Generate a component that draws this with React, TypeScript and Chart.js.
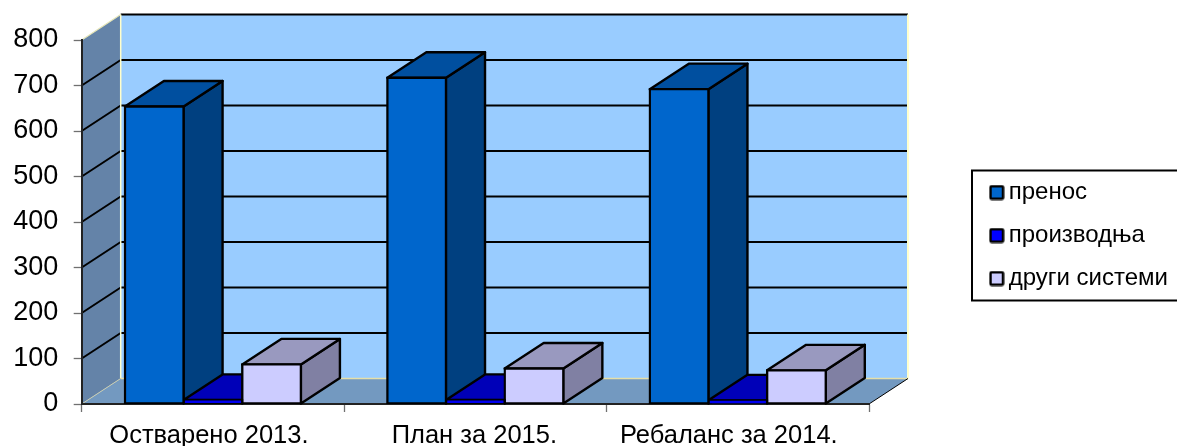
import React, { useEffect, useRef } from "react";
import { Chart, registerables } from "chart.js";

Chart.register(...registerables);

const categories = ["Остварено 2013.", "План за 2015.", "Ребаланс за 2014."];
const seriesNames = ["пренос", "производња", "други системи"];
const prenos = [654, 717, 692];
const proizvodnja = [9, 9, 8];
const drugiSistemi = [87, 78, 74];
const yTicks = [0, 100, 200, 300, 400, 500, 600, 700, 800];

const FRONT = ["#0066cc", "#0000ee", "#ccccff"];
const TOP = ["#004f9f", "#0000b8", "#9999bf"];
const SIDE = ["#004080", "#000099", "#8080a3"];
const SWATCH = ["#0066cc", "#0000ff", "#ccccff"];
const LABEL_SHIFT = [-4, -1, -9];
const DX = 39;
const DY = -25.5;
const FONT = "'Liberation Sans', Arial, sans-serif";
const LEGEND_FONT = 24;

function swatch(color: string) {
  const c = document.createElement("canvas");
  c.width = 16;
  c.height = 16;
  const g = c.getContext("2d")!;
  g.fillStyle = "#000";
  g.beginPath();
  g.roundRect(0.5, 0.5, 15, 15, 2.5);
  g.fill();
  g.fillStyle = color;
  g.fillRect(3, 3, 10, 10);
  return c;
}

function poly(g: CanvasRenderingContext2D, pts: number[][], fill: string | null, stroke?: string, lw = 2.4) {
  g.beginPath();
  pts.forEach((p, i) => (i ? g.lineTo(p[0], p[1]) : g.moveTo(p[0], p[1])));
  g.closePath();
  if (fill) {
    g.fillStyle = fill;
    g.fill();
  }
  if (stroke) {
    g.strokeStyle = stroke;
    g.lineWidth = lw;
    g.lineJoin = "round";
    g.stroke();
  }
}

function line(g: CanvasRenderingContext2D, x1: number, y1: number, x2: number, y2: number, color: string, lw: number) {
  g.beginPath();
  g.moveTo(x1, y1);
  g.lineTo(x2, y2);
  g.strokeStyle = color;
  g.lineWidth = lw;
  g.stroke();
}

const depthPlugin = {
  id: "depth3d",
  afterLayout(chart: any) {
    const lg = chart.legend;
    const padding = 43 - LEGEND_FONT;
    lg.left = 996.7 - padding;
    lg.right = 1177;
    lg.width = lg.right - lg.left;
    lg.top = 192.5 - LEGEND_FONT / 2 - padding;
    lg.bottom = 330;
    lg.height = lg.bottom - lg.top;
    const xs = chart.scales.x;
    xs.getLabelItems(chart.chartArea).forEach((it: any, i: number) => {
      it.options.translation[0] += LABEL_SHIFT[i];
    });
  },
  beforeDraw(chart: any) {
    const g: CanvasRenderingContext2D = chart.ctx;
    const { left, right } = chart.chartArea;
    const y = chart.scales.y;
    const top = y.getPixelForValue(800);
    const base = y.getPixelForValue(0);
    g.save();
    poly(g, [[left + DX, top + DY], [right + DX, top + DY], [right + DX, base + DY], [left + DX, base + DY]], "#99ccff");
    poly(g, [[left, top], [left + DX, top + DY], [left + DX, base + DY], [left, base]], "#6483a8");
    poly(g, [[left, base], [right, base], [right + DX, base + DY], [left + DX, base + DY]], "#7399c0");
    yTicks.slice(1).forEach((t) => {
      const py = y.getPixelForValue(t);
      line(g, left + DX, py + DY, right + DX, py + DY, "#000", 2);
      if (t < 800) line(g, left, py, left + DX, py + DY, "#000", 2);
    });
    line(g, left + DX, top + DY, left + DX, base + DY, "#ffffcc", 1.5);
    line(g, right + DX, top + DY, right + DX, base + DY, "#ffffcc", 2);
    line(g, left + DX, base + DY, right + DX, base + DY, "#e6dfa8", 1.5);
    line(g, left, top, left + DX, top + DY, "#e6e6b8", 1.2);
    line(g, left, base, left + DX, base + DY, "#c8ccb0", 1);
    line(g, right, base, right + DX, base + DY, "#000", 1);
    g.restore();
  },
  beforeDatasetsDraw(chart: any) {
    const g: CanvasRenderingContext2D = chart.ctx;
    g.save();
    categories.forEach((_, c) => {
      chart.data.datasets.forEach((_d: any, i: number) => {
        const el = chart.getDatasetMeta(i).data[c];
        const x2 = el.x + el.width / 2;
        const x1 = el.x - el.width / 2;
        poly(g, [[x2, el.y], [x2 + DX, el.y + DY], [x2 + DX, el.base + DY], [x2, el.base]], SIDE[i], "#000");
        poly(g, [[x1, el.y], [x1 + DX, el.y + DY], [x2 + DX, el.y + DY], [x2, el.y]], TOP[i], "#000");
      });
    });
    g.restore();
  },
  afterDraw(chart: any) {
    const g: CanvasRenderingContext2D = chart.ctx;
    g.save();
    g.strokeStyle = "#000";
    g.lineWidth = 2;
    g.strokeRect(972, 170.5, 240, 130);
    g.restore();
  },
};

export default function App() {
  const ref = useRef<HTMLCanvasElement>(null);
  useEffect(() => {
    const chart = new Chart(ref.current!, {
      type: "bar",
      data: {
        labels: categories,
        datasets: [prenos, proizvodnja, drugiSistemi].map((data, i) => ({
          label: seriesNames[i],
          data,
          backgroundColor: FRONT[i],
          borderColor: "#000",
          borderWidth: 2.4,
          borderSkipped: false,
          inflateAmount: 1.2,
          categoryPercentage: 0.6707,
          barPercentage: 1,
        })),
      },
      options: {
        responsive: false,
        animation: false,
        devicePixelRatio: 1,
        layout: { padding: { left: 0, top: 40, right: 308, bottom: 0 } },
        plugins: {
          title: { display: false },
          tooltip: { enabled: false },
          legend: {
            display: true,
            position: "chartArea" as any,
            align: "start",
            labels: {
              font: { family: FONT, size: LEGEND_FONT },
              color: "#000",
              padding: 43 - LEGEND_FONT,
              usePointStyle: true,
              pointStyleWidth: 0.01,
              boxHeight: 16,
              generateLabels: () =>
                seriesNames.map((text, i) => ({
                  text,
                  datasetIndex: i,
                  hidden: false,
                  pointStyle: swatch(SWATCH[i]),
                  fontColor: "#000",
                  lineWidth: 0,
                })) as any,
            },
          },
        },
        scales: {
          x: {
            type: "category",
            offset: true,
            afterFit: (s: any) => {
              s.height = 42;
            },
            grid: {
              offset: true,
              drawOnChartArea: false,
              drawTicks: true,
              tickLength: 8,
              tickColor: "#707070",
              tickWidth: 1.3,
            },
            border: { color: "#222", width: 2 },
            ticks: {
              color: "#000",
              font: { family: FONT, size: 25.5 },
              padding: 9,
              maxRotation: 0,
              autoSkip: false,
            },
          },
          y: {
            type: "linear",
            min: 0,
            max: 800,
            afterFit: (s: any) => {
              s.width = 81.7;
            },
            afterBuildTicks: (s: any) => {
              s.ticks = yTicks.map((value) => ({ value }));
            },
            grid: {
              drawOnChartArea: false,
              drawTicks: true,
              tickLength: 8,
              tickColor: "#707070",
              tickWidth: 1.3,
            },
            border: { color: "#222", width: 2 },
            ticks: {
              color: "#000",
              font: { family: FONT, size: 27 },
              padding: 15.5,
            },
          },
        },
      },
      plugins: [depthPlugin],
    } as any);
    return () => chart.destroy();
  }, []);
  return (
    <canvas
      ref={ref}
      width={1177}
      height={446}
      style={{ position: "fixed", left: 0, top: 0, width: 1177, height: 446 }}
    />
  );
}
